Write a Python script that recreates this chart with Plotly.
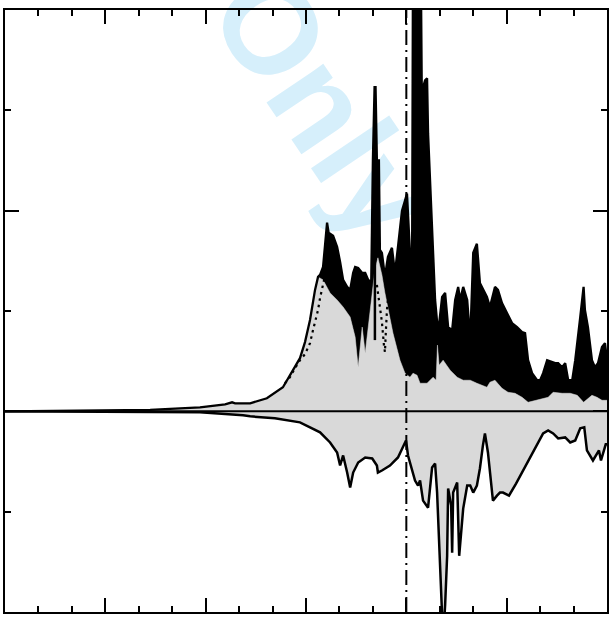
import plotly.graph_objects as go

# ---- spin-up: upper envelope (top of black band) ----
E_up = [-12.00, -9.16, -7.66, -6.17, -5.42, -5.21, -5.12, -4.67, -4.17, -3.69, -3.39, -3.18,
        -3.03, -2.88, -2.73, -2.64, -2.58, -2.49, -2.43, -2.37, -2.31, -2.28, -2.19, -2.07,
        -1.98, -1.89, -1.77, -1.68, -1.59, -1.53, -1.44, -1.32, -1.23, -1.14, -1.05, -1.02,
        -1.00, -0.95, -0.92, -0.88, -0.82, -0.79, -0.73, -0.64, -0.55, -0.43, -0.34, -0.25,
        -0.13, -0.04, 0.02, 0.08, 0.17, 0.20, 0.43, 0.47, 0.50, 0.56, 0.62, 0.65,
        0.77, 0.86, 0.95, 1.07, 1.16, 1.25, 1.37, 1.46, 1.55, 1.61, 1.70, 1.82,
        1.91, 2.00, 2.11, 2.20, 2.41, 2.50, 2.65, 2.74, 2.86, 3.01, 3.16, 3.31,
        3.46, 3.55, 3.64, 3.76, 3.91, 4.00, 4.09, 4.21, 4.36, 4.45, 4.54, 4.66,
        4.75, 4.84, 4.96, 5.05, 5.20, 5.30, 5.34, 5.43, 5.55, 5.64, 5.73, 5.85,
        5.94, 6.00]
D_up = [0.00, 0.005, 0.015, 0.04, 0.07, 0.09, 0.08, 0.08, 0.13, 0.24, 0.41, 0.53,
        0.69, 0.91, 1.21, 1.34, 1.36, 1.44, 1.66, 1.88, 1.75, 1.77, 1.75, 1.64,
        1.49, 1.31, 1.24, 1.21, 1.38, 1.44, 1.43, 1.38, 1.38, 1.31, 1.29, 2.10,
        2.50, 3.23, 3.23, 2.50, 2.50, 1.61, 1.58, 1.34, 1.54, 1.63, 1.38, 1.64,
        2.00, 2.10, 2.17, 1.77, 1.24, 4.60, 4.60, 2.83, 3.23, 3.30, 3.32, 2.77,
        1.77, 1.11, 0.78, 1.14, 1.18, 0.84, 0.81, 1.11, 1.24, 1.11, 1.24, 1.11,
        0.71, 1.58, 1.67, 1.28, 1.14, 1.04, 1.24, 1.21, 1.08, 0.98, 0.88, 0.84,
        0.79, 0.78, 0.51, 0.38, 0.31, 0.31, 0.38, 0.51, 0.49, 0.48, 0.48, 0.44,
        0.48, 0.31, 0.31, 0.51, 0.94, 1.24, 1.01, 0.84, 0.51, 0.44, 0.48, 0.64,
        0.68, 0.51]

# ---- spin-up: lower envelope (top of grey area) ----
E_lo = [-12.00, -9.16, -7.66, -6.17, -5.42, -5.21, -5.12, -4.67, -4.17, -3.69, -3.39, -3.18,
        -3.03, -2.88, -2.73, -2.64, -2.49, -2.28, -2.07, -1.89, -1.68, -1.53, -1.44, -1.32,
        -1.23, -1.14, -1.02, -0.94, -0.85, -0.73, -0.64, -0.40, -0.19, -0.04, 0.11, 0.20,
        0.32, 0.41, 0.62, 0.80, 0.89, 0.93, 0.98, 1.10, 1.31, 1.52, 1.70, 1.91,
        2.11, 2.41, 2.50, 2.65, 2.86, 3.04, 3.25, 3.46, 3.64, 3.85, 4.06, 4.24,
        4.39, 4.66, 4.90, 5.11, 5.30, 5.43, 5.55, 5.70, 5.85, 6.00]
D_lo = [0.00, 0.005, 0.015, 0.04, 0.07, 0.09, 0.08, 0.08, 0.13, 0.24, 0.41, 0.53,
        0.69, 0.91, 1.21, 1.34, 1.31, 1.18, 1.11, 1.04, 0.94, 0.74, 0.44, 0.84,
        0.58, 0.84, 1.18, 1.41, 1.53, 1.36, 1.18, 0.78, 0.51, 0.38, 0.34, 0.38,
        0.36, 0.28, 0.28, 0.34, 0.31, 0.66, 0.46, 0.51, 0.41, 0.34, 0.31, 0.31,
        0.28, 0.24, 0.29, 0.31, 0.23, 0.19, 0.18, 0.14, 0.09, 0.11, 0.13, 0.14,
        0.19, 0.18, 0.18, 0.16, 0.09, 0.13, 0.16, 0.14, 0.11, 0.11]

# ---- dotted partial curve (two visible pieces) ----
E_dot = [-3.63, -3.48, -3.33, -3.18, -3.03, -2.88, -2.79, -2.73, -2.64, -2.58, -2.52, -2.46, -2.40,
         None,
         -0.88, -0.79, -0.73, -0.67, -0.64, -0.61, -0.58, -0.52]
D_dot = [0.28, 0.34, 0.43, 0.51, 0.57, 0.68, 0.81, 0.89, 1.01, 1.13, 1.21, 1.31, 1.41,
         None,
         1.26, 1.06, 0.89, 0.66, 0.59, 0.81, 1.01, 1.21]

# ---- sharp single line peak ----
E_spk = [-0.94, -0.94]
D_spk = [0.71, 1.60]

# ---- spin-down (negative) ----
E_dn = [-12.00, -7.66, -6.17, -4.88, -4.67, -3.93, -3.18, -2.88, -2.58, -2.28, -2.07, -1.98,
        -1.89, -1.77, -1.68, -1.59, -1.44, -1.23, -1.02, -0.88, -0.85, -0.73, -0.49, -0.25,
        -0.10, -0.01, 0.05, 0.17, 0.26, 0.35, 0.41, 0.50, 0.65, 0.77, 0.86, 0.92,
        1.01, 1.07, 1.10, 1.16, 1.22, 1.25, 1.34, 1.37, 1.40, 1.52, 1.58, 1.70,
        1.82, 1.91, 2.00, 2.11, 2.20, 2.29, 2.35, 2.44, 2.56, 2.59, 2.71, 2.80,
        2.89, 3.07, 3.28, 3.49, 3.70, 3.88, 4.09, 4.24, 4.39, 4.54, 4.75, 4.90,
        5.05, 5.20, 5.32, 5.40, 5.58, 5.76, 5.82, 5.97, 6.00]
D_dn = [0.00, -0.002, -0.01, -0.04, -0.05, -0.07, -0.11, -0.16, -0.21, -0.31, -0.41, -0.54,
        -0.44, -0.61, -0.76, -0.61, -0.51, -0.46, -0.47, -0.54, -0.61, -0.59, -0.54, -0.46,
        -0.36, -0.29, -0.44, -0.57, -0.69, -0.74, -0.69, -0.89, -0.96, -0.56, -0.52, -0.81,
        -1.61, -2.28, -2.28, -1.93, -1.44, -0.77, -0.94, -1.41, -0.81, -0.71, -1.44, -0.97,
        -0.74, -0.74, -0.81, -0.74, -0.57, -0.34, -0.22, -0.41, -0.81, -0.89, -0.84, -0.81,
        -0.81, -0.84, -0.72, -0.59, -0.47, -0.36, -0.22, -0.19, -0.22, -0.27, -0.26, -0.31,
        -0.29, -0.17, -0.16, -0.39, -0.49, -0.39, -0.49, -0.32, -0.34]

X_RANGE = [-12, 6]
Y_RANGE = [-2, 4]
E_FERMI = 0.0

GREY = "#d9d9d9"

fig = go.Figure()

fig.add_trace(go.Scatter(x=E_dn, y=D_dn, mode="lines", fill="tozeroy", fillcolor=GREY,
                         line=dict(color="black", width=2.5)))
fig.add_trace(go.Scatter(x=E_lo, y=D_lo, mode="lines", fill="tozeroy", fillcolor=GREY,
                         line=dict(color=GREY, width=0.5)))
fig.add_trace(go.Scatter(x=E_up, y=D_up, mode="lines", fill="tonexty", fillcolor="black",
                         line=dict(color="black", width=2.3)))
fig.add_trace(go.Scatter(x=E_dot, y=D_dot, mode="lines", connectgaps=False,
                         line=dict(color="black", width=2.2, dash="2.5px,4px")))
fig.add_trace(go.Scatter(x=E_spk, y=D_spk, mode="lines",
                         line=dict(color="black", width=2.5)))
fig.add_trace(go.Scatter(x=X_RANGE, y=[0, 0], mode="lines",
                         line=dict(color="black", width=2)))
fig.add_trace(go.Scatter(x=[E_FERMI, E_FERMI], y=Y_RANGE, mode="lines",
                         line=dict(color="black", width=2, dash="15px,5px,2px,5px")))

fig.add_shape(type="rect", xref="paper", yref="paper", x0=0.533, x1=0.557, y0=0.840, y1=0.864,
              line=dict(width=0), fillcolor="rgba(0,0,0,0)", layer="below",
              label=dict(text="<b>Only</b>", textangle=56, textposition="middle center",
                         font=dict(size=130, color="#d6effb", family="Liberation Sans")))

axis_common = dict(showline=True, linecolor="black", linewidth=2, mirror="ticks",
                   ticks="inside", tickcolor="black", tickwidth=2, showticklabels=False,
                   showgrid=False, zeroline=False)

fig.update_xaxes(range=X_RANGE, tick0=-12, dtick=3, ticklen=14,
                 minor=dict(dtick=1, ticks="inside", ticklen=6, tickwidth=2, tickcolor="black"),
                 **axis_common)
fig.update_yaxes(range=Y_RANGE, tick0=0, dtick=2, ticklen=14,
                 minor=dict(dtick=1, ticks="inside", ticklen=6, tickwidth=2, tickcolor="black"),
                 **axis_common)

fig.update_layout(width=613, height=625, margin=dict(l=5, r=6, t=10, b=13),
                  plot_bgcolor="white", paper_bgcolor="white", showlegend=False)

fig.write_html("out.html", config={"displayModeBar": False},
               post_script="document.body.style.margin='0';document.body.style.padding='0';")
